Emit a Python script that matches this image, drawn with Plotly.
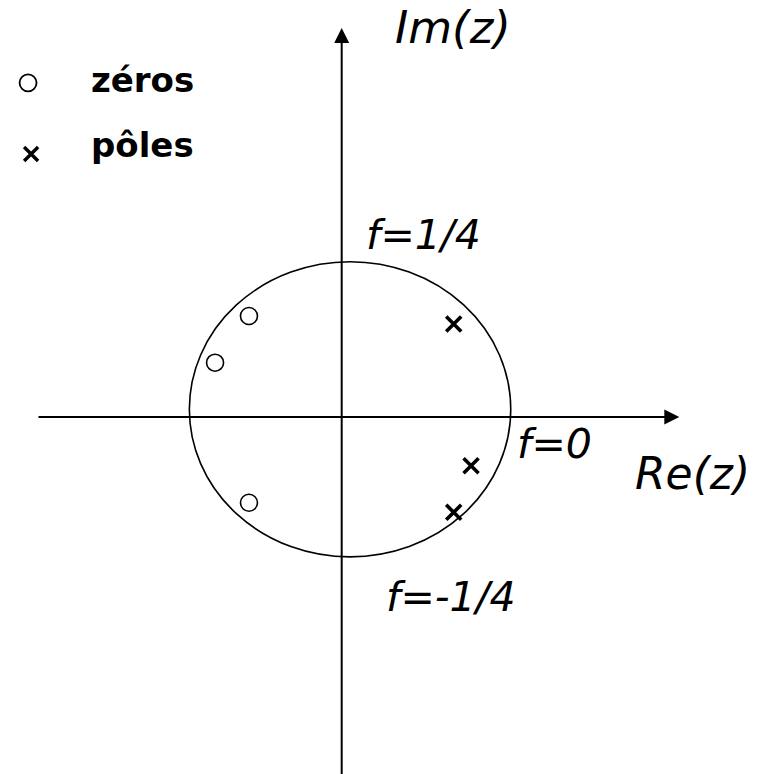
import numpy as np
import plotly.graph_objects as go

# Pole-zero diagram in the z-plane
zeros_re = [-0.577, -0.788, -0.577]
zeros_im = [0.684, 0.368, -0.581]
poles_re = [0.697, 0.805, 0.697]
poles_im = [0.630, -0.330, -0.646]

# unit circle (slightly off-centre, as sketched)
circle_center = (0.052, 0.052)
circle_radius = 1.0

legend_labels = ["zéros", "pôles"]
freq_labels = ["f=1/4", "f=0", "f=-1/4"]
freq_pos = [(0.512, 1.235), (1.322, -0.180), (0.680, -1.220)]
axis_labels = ["Re(z)", "Im(z)"]

W, H = 758, 774
x_range = [-2.1263, 2.5906]
y_range = [-2.4187, 2.8252]

FONT = "Comic Sans MS, DejaVu Sans"
BLACK = "#000000"

fig = go.Figure()

# the unit circle
cx, cy = circle_center
fig.add_shape(type="circle", xref="x", yref="y",
              x0=cx - circle_radius, x1=cx + circle_radius,
              y0=cy - circle_radius, y1=cy + circle_radius,
              line=dict(color=BLACK, width=1.6))

# zeros and poles
fig.add_trace(go.Scatter(x=zeros_re, y=zeros_im, mode="markers",
                         marker=dict(symbol="circle-open", size=17,
                                     color=BLACK, line=dict(width=1.6)),
                         showlegend=False, hoverinfo="skip"))
fig.add_trace(go.Scatter(x=poles_re, y=poles_im, mode="markers",
                         marker=dict(symbol="x-thin", size=15,
                                     color=BLACK, line=dict(width=3.6, color=BLACK)),
                         showlegend=False, hoverinfo="skip"))

# hand-made legend on an overlay of paper-like axes
fig.add_trace(go.Scatter(x=[0.037], y=[0.893], mode="markers", xaxis="x2", yaxis="y2",
                         marker=dict(symbol="circle-open", size=17,
                                     color=BLACK, line=dict(width=1.8)),
                         showlegend=False, hoverinfo="skip"))
fig.add_trace(go.Scatter(x=[0.041], y=[0.801], mode="markers", xaxis="x2", yaxis="y2",
                         marker=dict(symbol="x-thin", size=14,
                                     color=BLACK, line=dict(width=3.4, color=BLACK)),
                         showlegend=False, hoverinfo="skip"))

annotations = []
# real and imaginary axes with arrow heads
annotations.append(dict(x=2.101, y=0, ax=-1.896, ay=0, xref="x", yref="y",
                        axref="x", ayref="y", text="", showarrow=True,
                        arrowhead=2, arrowsize=1.5, arrowwidth=2, arrowcolor=BLACK,
                        standoff=0, startstandoff=0))
annotations.append(dict(x=0, y=2.635, ax=0, ay=-2.6, xref="x", yref="y",
                        axref="x", ayref="y", text="", showarrow=True,
                        arrowhead=2, arrowsize=1.5, arrowwidth=2, arrowcolor=BLACK,
                        standoff=0, startstandoff=0))

label_font = dict(family=FONT, size=41, color=BLACK, style="italic")
annotations.append(dict(x=2.180, y=-0.385, xref="x", yref="y", text=axis_labels[0],
                        showarrow=False, font=dict(label_font, size=44)))
annotations.append(dict(x=0.693, y=2.640, xref="x", yref="y", text=axis_labels[1],
                        showarrow=False, font=dict(label_font, size=45)))
for txt, (fx, fy) in zip(freq_labels, freq_pos):
    annotations.append(dict(x=fx, y=fy, xref="x", yref="y", text=txt,
                            showarrow=False, font=label_font))

legend_font = dict(family=FONT, size=34, color=BLACK, weight="bold")
for txt, ly in zip(legend_labels, [0.896, 0.813]):
    annotations.append(dict(x=0.118, y=ly, xref="paper", yref="paper", text=txt,
                            xanchor="left", yanchor="middle", showarrow=False,
                            font=legend_font))

hidden = dict(visible=False, showgrid=False, zeroline=False, fixedrange=True)
fig.update_layout(
    width=W, height=H,
    margin=dict(l=0, r=0, t=0, b=0),
    paper_bgcolor="white", plot_bgcolor="white",
    xaxis=dict(hidden, range=x_range),
    yaxis=dict(hidden, range=y_range),
    xaxis2=dict(hidden, range=[0, 1], overlaying="x"),
    yaxis2=dict(hidden, range=[0, 1], overlaying="y"),
    annotations=annotations,
    showlegend=False,
)

fig.write_html("out.html")
